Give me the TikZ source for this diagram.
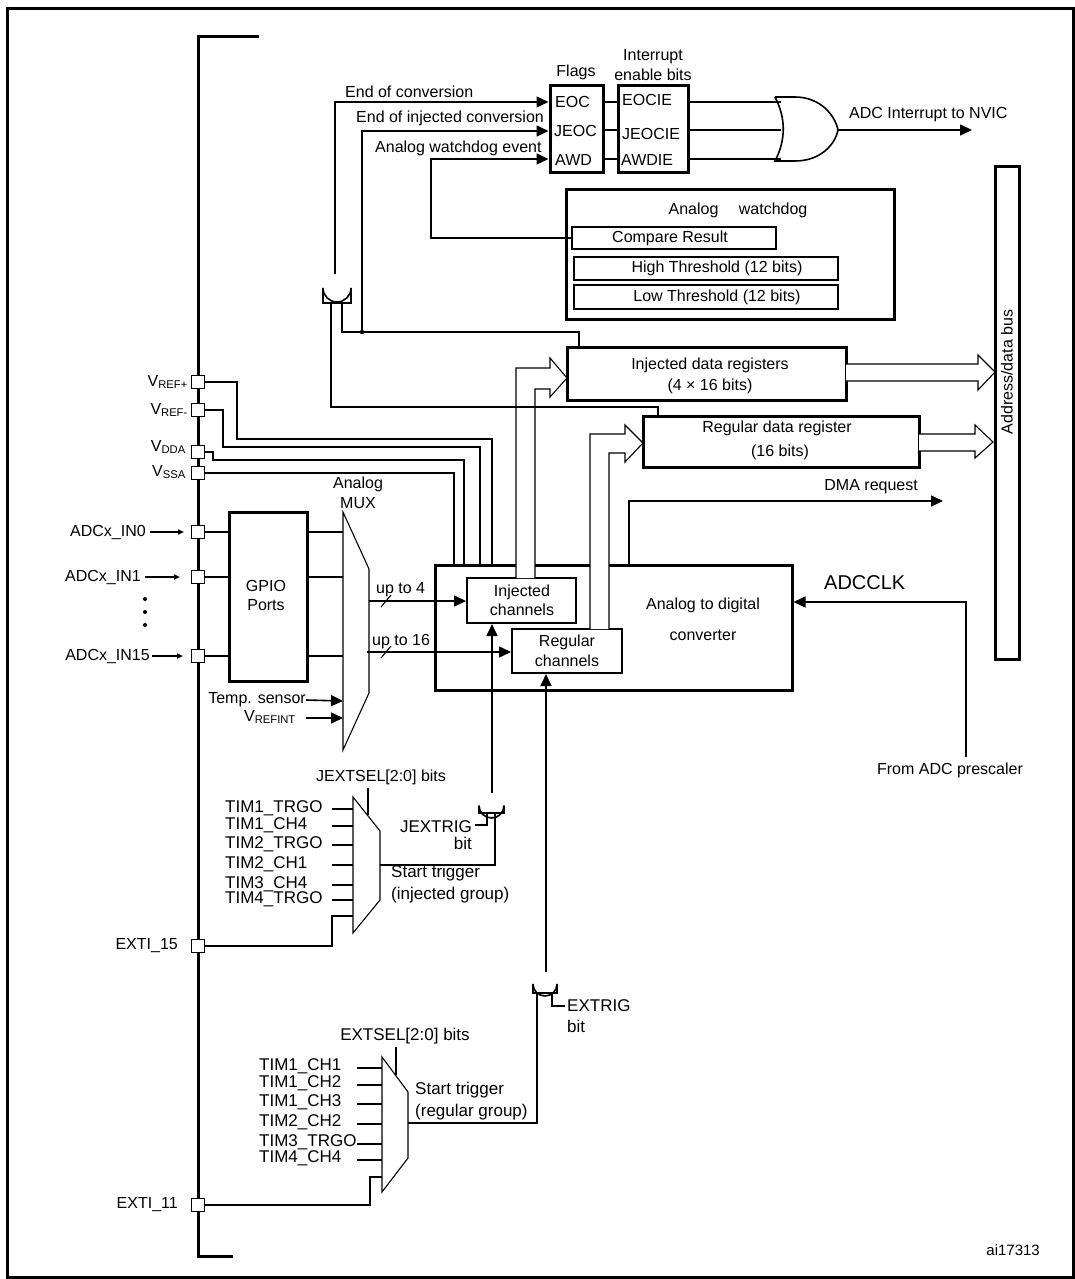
\documentclass[tikz,border=0pt]{standalone}
\usepackage{fontspec}
\setmainfont{Liberation Sans}
\usetikzlibrary{arrows.meta}
\newcommand\fsz[1]{\fontsize{#1}{#1}\selectfont}
\begin{document}
\begin{tikzpicture}[x=1pt,y=-1pt,
  txt/.style={inner sep=0pt,font=\fsz{16}},
  tim/.style={inner sep=0pt,font=\fsz{17},anchor=west},
  wire/.style={line width=1.6pt},
  thin/.style={line width=1.1pt},
  arr/.style={wire,-{Triangle[length=12pt,width=11pt]}},
  box/.style={line width=3pt,fill=white},
  ibox/.style={line width=2pt,fill=white},
  pin/.style={draw,line width=1.6pt,fill=white,minimum size=13pt,inner sep=0pt},
  gate/.style={line width=1.6pt,fill=white}]
\useasboundingbox (0,0) rectangle (1075,1279);
\draw[line width=3pt] (7,9) rectangle (1073,1277);
% main bus
\draw[line width=3pt] (259,37) -- (198,37) -- (198,1256) -- (233,1256);
% pins
\foreach \n/\y in {vrp/382,vrm/410,vdda/452,vssa/473,in0/532,in1/577,in15/656,ex15/946,ex11/1205}
  \node[pin] (\n) at (198,\y) {};
\node[txt,anchor=east] at (188,382) {V\textsubscript{REF+}};
\node[txt,anchor=east] at (188,410) {V\textsubscript{REF-}};
\node[txt,anchor=east] at (186,447) {V\textsubscript{DDA}};
\node[txt,anchor=east] at (186,472) {V\textsubscript{SSA}};
\node[txt,anchor=east] (l0) at (146,532) {ADCx\_IN0};
\node[txt,anchor=east] (l1) at (141,577) {ADCx\_IN1};
\node[txt,anchor=east] (l15) at (150,656) {ADCx\_IN15};
\draw[wire,-{Triangle[length=6pt,width=5pt]}] (l0.east)++(4,0) -- (184,532);
\draw[wire,-{Triangle[length=6pt,width=5pt]}] (l1.east)++(4,0) -- (180,577);
\draw[wire,-{Triangle[length=6pt,width=5pt]}] (l15.east)++(2,0) -- (183,656);
\foreach \y in {599,612,625} \fill (145,\y) circle (2pt);
\node[txt,anchor=east] at (178,946) {EXTI\_15};
\node[txt,anchor=east] at (178,1205) {EXTI\_11};
% supply lines
\draw[wire] (vrp.east) -- (237,382) |- (492,439) -- (492,565);
\draw[wire] (vrm.east) -- (223,410) |- (480,447) -- (480,565);
\draw[wire] (vdda.east) -- (213,452) |- (464,460) -- (464,565);
\draw[wire] (vssa.east) -- (454,473) -- (454,565);
% GPIO
\node[box,draw,minimum width=78pt,minimum height=169pt,inner sep=0pt] (gpio) at (268,596.5) {};
\node[txt] at (266,586) {GPIO};
\node[txt] at (266,605) {Ports};
\foreach \y in {532,577,656} {\draw[wire] (205,\y) -- (229,\y); \draw[wire] (307,\y) -- (343,\y);}
% analog mux
\draw[thin,fill=white] (343,512) -- (369,569) -- (369,693) -- (343,750) -- cycle;
\node[txt] at (358,484) {Analog};
\node[txt] at (358,503) {MUX};
\node[txt,anchor=east] (temp) at (306,700) {Temp. sensor};
\node[txt,anchor=east] (vrefint) at (296,717) {V\textsubscript{REFINT}};
\draw[arr] (temp.east) -- (343,701);
\draw[arr] (306,718) -- (343,718);
% ADC
\node[box,draw,minimum width=357pt,minimum height=125pt,inner sep=0pt] (adc) at (613.5,627.5) {};
\node[txt] at (703,605) {Analog to digital};
\node[txt] at (703,635) {converter};
\node[ibox,draw,minimum width=109pt,minimum height=45pt,inner sep=0pt] (inj) at (521.5,600.5) {};
\node[txt] at (522,592) {Injected};
\node[txt] at (522,610) {channels};
\node[ibox,draw,minimum width=110pt,minimum height=44pt,inner sep=0pt] (reg) at (567,651) {};
\node[txt] at (567,642) {Regular};
\node[txt] at (567,661) {channels};
\draw[arr] (369,601) -- (inj.west |- 0,601);
\draw[arr] (367,652) -- (reg.west |- 0,652);
\draw[thin] (381,607) -- (391,595);
\draw[thin] (381,658) -- (391,646);
\node[txt,anchor=west] at (376,590) {up to 4};
\node[txt,anchor=west] at (372,642) {up to 16};
% data registers
\node[box,draw,minimum width=279pt,minimum height=53pt,inner sep=0pt] (ireg) at (706.5,373.5) {};
\node[txt] at (710,365) {Injected data registers};
\node[txt] at (710,386) {(4 × 16 bits)};
\node[box,draw,minimum width=276pt,minimum height=51pt,inner sep=0pt] (rreg) at (781,441.5) {};
\node[txt] at (777,428) {Regular data register};
\node[txt] at (780,452) {(16 bits)};
% hollow arrows
\draw[thin,fill=white] (516,578) |- (550,368) -- (550,358) -- (567,378) -- (550,397) -- (550,389) -| (535,578);
\draw[thin,fill=white] (590,629) |- (625,434) -- (625,425) -- (643,443) -- (625,462) -- (625,453) -| (609,629);
\draw[thin,fill=white] (846,364) -- (978,364) -- (978,355) -- (995,372) -- (978,390) -- (978,381) -- (846,381);
\draw[thin,fill=white] (919,434) -- (975,434) -- (975,425) -- (993,442) -- (975,458) -- (975,451) -- (919,451);
% address bus
\node[draw,line width=3pt,minimum width=24pt,minimum height=493pt,inner sep=0pt] (abus) at (1007,412.5) {};
\node[txt,rotate=90] at (1007,372) {Address/data bus};
% DMA
\coordinate (dma) at (943,501);
\draw[arr] (629,565) |- (dma);
\node[txt,anchor=east] at (918,487) {DMA request};
% ADCCLK
\coordinate (pres) at (966,757);
\draw[arr] (pres) |- (adc.east |- 0,602);
\node[txt,anchor=west,font=\fsz{20}] at (824,583) {ADCCLK};
\node[txt] at (950,770) {From ADC prescaler};
% flags
\node[box,draw,minimum width=53pt,minimum height=86pt,inner sep=0pt] (flags) at (576.5,129) {};
\node[box,draw,minimum width=70pt,minimum height=86pt,inner sep=0pt] (ien) at (653,129) {};
\node[txt] at (576,72) {Flags};
\node[txt] at (653,57) {Interrupt};
\node[txt] at (653,75) {enable bits};
\node[txt,anchor=west] at (555,102) {EOC};
\node[txt,anchor=west] at (554,131) {JEOC};
\node[txt,anchor=west] at (555,160) {AWD};
\node[txt,anchor=west] at (622,100) {EOCIE};
\node[txt,anchor=west] at (622,134) {JEOCIE};
\node[txt,anchor=west] at (621,160) {AWDIE};
\foreach \y in {102,130,159} {\draw[wire] (603,\y) -- (618,\y); \draw[wire] (688,\y) -- (781,\y);}
% OR gate
\draw[gate] (775,97) -- (795,97) .. controls (820,97) and (835,115) .. (838,130) .. controls (835,145) and (820,161) .. (795,161) -- (775,161) .. controls (786,140) and (786,118) .. (775,97);
\foreach \y in {102,130,159} \draw[wire] (770,\y) -- (781,\y);
\coordinate (nvic) at (972,130);
\draw[arr] (838,130) -- (nvic);
\node[txt,anchor=west] at (849,115) {ADC Interrupt to NVIC};
% flags inputs
\node[txt,anchor=west] at (345,92) {End of conversion};
\node[txt,anchor=west] at (356,118) {End of injected conversion};
\node[txt,anchor=west] at (375,148) {Analog watchdog event};
% analog watchdog
\node[box,draw,minimum width=328pt,minimum height=130pt,inner sep=0pt] (awdg) at (730,254) {};
\node[txt] at (738,210) {Analog \quad watchdog};
\node[ibox,draw,minimum width=204pt,minimum height=22pt,inner sep=0pt] (cmp) at (674,238) {};
\node[txt] at (670,238) {Compare Result};
\node[ibox,draw,minimum width=264pt,minimum height=23pt,inner sep=0pt] (hi) at (706,268.5) {};
\node[txt] at (717,268) {High Threshold (12 bits)};
\node[ibox,draw,minimum width=264pt,minimum height=24pt,inner sep=0pt] (lo) at (706,297) {};
\node[txt] at (717,297) {Low Threshold (12 bits)};
\draw[arr] (cmp.west) -| (431,159) -- (flags.west |- 0,159);
% AND gate for EOC
\draw[gate] (323,303) -- (323,288) arc[start angle=180,end angle=0,radius=14] -- (351,303) -- cycle;
\draw[arr] (335,274) |- (flags.west |- 0,102);
\draw[wire] (342,303) |- (579,332) -- (579,347);
\draw[wire] (331,303) |- (658,407) -- (658,416);
\fill (362,332) circle (2.2pt);
\draw[arr] (362,332) |- (flags.west |- 0,131);
% JEXTSEL mux
\draw[thin,fill=white] (353,797) -- (380,831) -- (380,900) -- (353,933) -- cycle;
\draw[wire] (368,788) -- (368,815);
\node[txt] at (381,777) {JEXTSEL[2:0] bits};
\foreach \t/\y in {TIM1\_TRGO/809,TIM1\_CH4/826,TIM2\_TRGO/845,TIM2\_CH1/865,TIM3\_CH4/885,TIM4\_TRGO/900} {
  \node[tim] at (225,\y-1) {\t};
  \draw[wire] (332,\y) -- (353,\y);}
\draw[wire] (ex15.east) -- (332,946) |- (353,916);
% J AND gate
\draw[gate] (479,813) -- (479,805.5) arc[start angle=180,end angle=0,radius=12.5] -- (504,813) -- cycle;
\draw[wire] (380,865) -- (495,865) -- (495,813);
\draw[wire] (487,813) |- (475,825);
\draw[arr] (492,793) -- (inj.south -| 492,0);
\node[tim,anchor=east] at (472,827) {JEXTRIG};
\node[tim,anchor=east] at (472,843) {bit};
\node[tim] at (391,873) {Start trigger};
\node[tim] at (391,895) {(injected group)};
% EXTSEL mux
\draw[thin,fill=white] (382,1057) -- (408,1092) -- (408,1158) -- (382,1192) -- cycle;
\draw[wire] (396,1047) -- (396,1075);
\node[txt,font=\fsz{17}] at (405,1036) {EXTSEL[2:0] bits};
\foreach \t/\y in {TIM1\_CH1/1068,TIM1\_CH2/1085,TIM1\_CH3/1104,TIM2\_CH2/1124,TIM3\_TRGO/1144,TIM4\_CH4/1160} {
  \node[tim] at (259,\y-2) {\t};
  \draw[wire] (357,\y) -- (382,\y);}
\draw[wire] (ex11.east) -- (370,1205) |- (382,1177);
% regular AND gate
\draw[gate] (533,993) -- (533,984) arc[start angle=180,end angle=0,radius=12] -- (557,993) -- cycle;
\draw[wire] (408,1123) -| (537,993);
\draw[wire] (552,993) |- (565,1006);
\draw[arr] (546,972) -- (reg.south -| 546,0);
\node[tim] at (567,1006) {EXTRIG};
\node[tim] at (567,1026) {bit};
\node[tim] at (415,1090) {Start trigger};
\node[tim] at (415,1112) {(regular group)};
\node[txt,anchor=east,font=\fsz{15}] at (1040,1250) {ai17313};
\end{tikzpicture}
\end{document}
